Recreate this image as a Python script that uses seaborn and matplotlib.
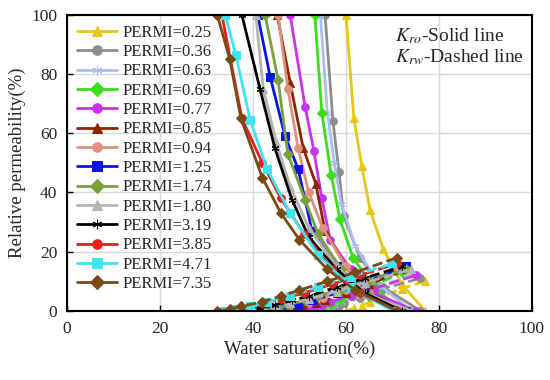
import numpy as np
import pandas as pd
import matplotlib
matplotlib.use("Agg")
import matplotlib.pyplot as plt
import seaborn as sns

# permeability labels
permi = ["0.25", "0.36", "0.63", "0.69", "0.77", "0.85", "0.94",
         "1.25", "1.74", "1.80", "3.19", "3.85", "4.71", "7.35"]

# water saturation (%) points for each curve
sw = [
    [60.0, 61.7, 63.4, 65.2, 68.0, 72.0, 77.0],
    [55.5, 57.2, 58.5, 59.5, 63.0, 68.0, 76.0],
    [54.5, 56.0, 57.5, 59.0, 62.0, 67.0, 74.0],
    [53.3, 54.8, 56.8, 58.7, 61.5, 66.0, 72.0],
    [48.0, 51.2, 53.1, 54.8, 56.6, 61.0, 66.0, 75.0],
    [45.2, 48.0, 50.8, 53.5, 55.5, 60.0, 65.0, 73.0],
    [45.4, 47.5, 49.7, 52.0, 55.0, 60.0, 65.0, 72.0],
    [41.0, 43.7, 46.9, 49.7, 52.7, 58.0, 64.0, 73.0],
    [42.6, 45.4, 47.5, 51.2, 54.0, 59.0, 65.0, 73.0],
    [40.6, 42.2, 45.0, 48.0, 52.0, 58.0, 64.0, 74.0],
    [37.6, 41.5, 44.7, 48.4, 52.0, 58.0, 64.0, 72.0],
    [33.3, 37.6, 42.0, 46.0, 51.0, 57.0, 63.0, 71.0],
    [34.0, 36.3, 39.4, 43.0, 48.0, 54.0, 61.0, 70.0],
    [32.3, 35.0, 37.4, 42.0, 46.0, 50.0, 56.0, 62.0, 71.0],
]

# oil relative permeability (%)
kro = [
    [100, 65, 49, 34, 21, 9, 0],
    [100, 64, 47, 32, 18, 8, 0],
    [100, 67, 50, 36, 22, 9, 0],
    [100, 67, 46, 31, 18, 8, 0],
    [100, 69, 54, 38, 24, 14, 6, 0],
    [100, 77, 55, 43, 27, 15, 6, 0],
    [100, 75, 55, 40, 28, 15, 6, 0],
    [100, 79, 59, 48, 27, 15, 6, 0],
    [100, 78, 53, 37.5, 26, 14, 5, 0],
    [100, 75, 57, 42, 28, 15, 6, 0],
    [100, 75, 55, 37.5, 25, 14, 6, 0],
    [100, 65, 50, 38, 26, 14, 6, 0],
    [100, 86.5, 64.5, 48, 33, 19, 8, 0],
    [100, 85, 65, 45, 33, 24, 14, 7, 0],
]

# water relative permeability (%)
krw = [
    [0, 0.8, 1.8, 3, 5, 7.5, 10],
    [0, 0.8, 1.5, 2.5, 4.5, 7.5, 11],
    [0, 1, 2, 3, 5, 8, 12],
    [0, 1, 2, 3.5, 5.5, 8.5, 13],
    [0, 0.5, 1, 2, 3, 5, 7.5, 12],
    [0, 0.5, 1.5, 2.5, 3.5, 6, 9, 14],
    [0, 1, 2, 3, 4.5, 7, 10, 15],
    [0, 0.5, 1.2, 2, 3.5, 6, 9.5, 15],
    [0, 1, 2, 3.5, 5, 7.5, 10.5, 14],
    [0, 0.5, 1.5, 2.5, 4, 6.5, 9.5, 14],
    [0, 1, 2, 3.5, 5, 8, 11, 15],
    [0, 1, 2.5, 4, 6, 9, 12, 16],
    [0, 0.5, 1.5, 3, 5, 8, 11.5, 16],
    [0, 0.5, 1.5, 3, 5, 7, 10, 13, 18],
]

colors = ["#e6c619", "#8c8c8c", "#a9bff2", "#3cdc1e", "#c832f0", "#8b2500",
          "#e0907e", "#0a14e6", "#78a03c", "#b4b4b4", "#000000", "#e61e1e",
          "#3ce6f0", "#7b4a14"]
markers = ["^", "o", (6, 2, 0), "D", "o", "^", "o", "s", "D", "^", (6, 2, 0),
           "o", "s", "D"]

sns.set_style("whitegrid")
plt.rcParams["font.family"] = ["Liberation Serif", "DejaVu Serif"]
plt.rcParams["mathtext.fontset"] = "stix"

fig, ax = plt.subplots(figsize=(5.5, 3.8), dpi=100)
fig.subplots_adjust(left=0.122, right=0.967, top=0.961, bottom=0.182)

for i in range(len(permi)):
    sns.lineplot(x=sw[i], y=kro[i], ax=ax, color=colors[i], marker=markers[i],
                 markersize=5.5, markeredgecolor=colors[i], linewidth=2,
                 label="PERMI=" + permi[i])
    sns.lineplot(x=sw[i], y=krw[i], ax=ax, color=colors[i], marker=markers[i],
                 markersize=5.5, markeredgecolor=colors[i], linewidth=2,
                 linestyle="--", legend=False)

ax.set_xlim(0, 100)
ax.set_ylim(0, 100)
ax.set_xticks(range(0, 101, 20))
ax.set_yticks(range(0, 101, 20))
ax.grid(True, color="#d9d9d9", linewidth=1)
ax.tick_params(direction="in", length=4, labelsize=12.5, color="black", width=1,
               bottom=True, left=True, pad=7)
for s in ax.spines.values():
    s.set_color("black")
    s.set_linewidth(1.5)

ax.set_xlabel("Water saturation(%)", fontsize=13.5, labelpad=3)
ax.set_ylabel("Relative permeability(%)", fontsize=13.5, labelpad=4)

ax.legend(loc="upper left", frameon=False, fontsize=12, handlelength=2.4,
          labelspacing=0.2, borderpad=0.1, handletextpad=0.3,
          borderaxespad=0.5, markerscale=1.25)

ax.text(0.705, 0.96, "$K_{ro}$-Solid line\n$K_{rw}$-Dashed line",
        transform=ax.transAxes, fontsize=14, va="top", ha="left",
        linespacing=1.05)

fig.savefig("out.png", dpi=100)
